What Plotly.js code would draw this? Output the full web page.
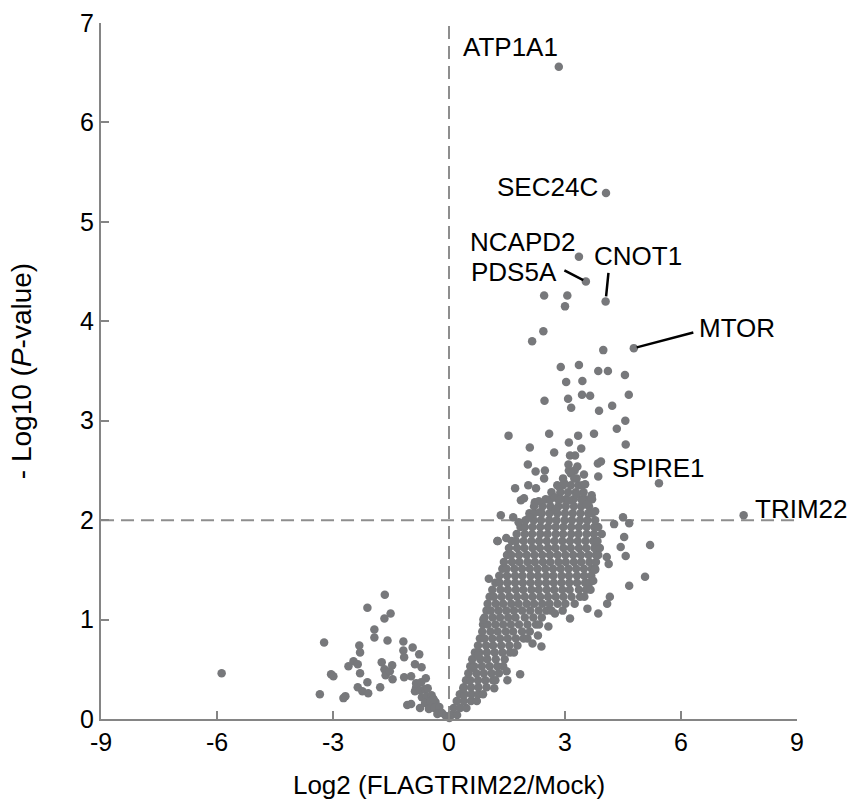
<!DOCTYPE html>
<html><head><meta charset="utf-8">
<script src="https://cdn.plot.ly/plotly-3.0.1.min.js"></script>
<style>html,body{margin:0;padding:0;background:#fff}</style>
</head><body><div id="chart" style="width:850px;height:803px"></div>
<script>
// ---- data ----
const xTickVals = [-9, -6, -3, 0, 3, 6, 9];
const xTickText = ['-9', '-6', '-3', '0', '3', '6', '9'];
const yTickVals = [0, 1, 2, 3, 4, 5, 6, 7];
const xTitle = 'Log2 (FLAGTRIM22/Mock)';
const yTitle = '- Log10 (<i>P</i>-value)';

// down-regulated arm (log2 FC < 0)
const leftArmPts = [
 [-5.88,0.46],[-3.23,0.77],[-3.34,0.25],[-3.05,0.45],[-2.99,0.43],[-2.73,0.21],[-2.68,0.23],
 [-2.60,0.53],[-2.47,0.58],[-2.36,0.55],[-2.32,0.74],[-2.30,0.67],[-2.30,0.46],[-2.36,0.32],
 [-2.24,0.28],[-2.09,0.26],[-2.11,0.37],[-2.11,1.12],[-1.93,0.90],[-1.93,0.82],[-1.78,0.32],
 [-1.66,1.25],[-1.67,1.01],[-1.51,1.06],[-1.59,0.79],[-1.74,0.57],[-1.67,0.50],[-1.64,0.44],
 [-1.47,0.54],[-1.53,0.48],[-1.46,0.40],[-1.18,0.78],[-1.18,0.69],[-1.16,0.62],[-0.94,0.72],
 [-0.77,0.65],[-1.16,0.42],[-0.98,0.43],[-0.88,0.55],[-0.71,0.52],[-0.60,0.41],[-1.08,0.14],
 [-0.98,0.15],[-0.85,0.32],[-0.75,0.11],[-0.85,0.36],[-0.72,0.37],[-0.88,0.28],[-0.75,0.29],
 [-0.62,0.30],[-0.70,0.22],[-0.57,0.23],[-0.45,0.24],[-0.62,0.16],[-0.48,0.17],[-0.35,0.17],
 [-0.52,0.10],[-0.38,0.11],[-0.25,0.12],[-0.30,0.05],[-0.18,0.06],[-0.08,0.03],[-0.55,0.31],
 [-0.40,0.20]
];

// dense up-regulated band
const denseBandPts = [
 [0.01,0.01],[0.06,0.04],[0.21,0.04],
 [0.12,0.11],[0.29,0.11],[0.45,0.11],
 [0.20,0.18],[0.38,0.18],[0.57,0.18],[0.72,0.18],
 [0.28,0.25],[0.40,0.25],[0.58,0.25],[0.76,0.25],[0.88,0.25],
 [0.38,0.32],[0.57,0.32],[0.76,0.32],[0.97,0.32],
 [0.44,0.39],[0.55,0.39],[0.75,0.39],[0.94,0.39],[1.14,0.39],[1.20,0.39],
 [0.50,0.46],[0.71,0.46],[0.90,0.46],[1.10,0.46],[1.29,0.46],
 [0.55,0.53],[0.65,0.53],[0.85,0.53],[1.05,0.53],[1.25,0.53],[1.40,0.53],
 [0.60,0.60],[0.81,0.60],[0.99,0.60],[1.21,0.60],[1.44,0.60],
 [0.67,0.67],[0.78,0.67],[0.98,0.67],[1.18,0.67],[1.38,0.67],[1.58,0.67],[1.68,0.67],
 [0.75,0.74],[0.96,0.74],[1.14,0.74],[1.35,0.74],[1.56,0.74],[1.77,0.74],
 [0.80,0.81],[0.92,0.81],[1.12,0.81],[1.32,0.81],[1.52,0.81],[1.73,0.81],[1.93,0.81],[2.03,0.81],
 [0.86,0.88],[1.07,0.88],[1.26,0.88],[1.47,0.88],[1.66,0.88],[1.89,0.88],[2.09,0.88],
 [0.88,0.95],[1.00,0.95],[1.20,0.95],[1.40,0.95],[1.60,0.95],[1.81,0.95],[2.03,0.95],[2.25,0.95],[2.33,0.95],
 [0.92,1.02],[1.13,1.02],[1.32,1.02],[1.53,1.02],[1.72,1.02],[1.96,1.02],[2.18,1.02],[2.40,1.02],
 [0.97,1.09],[1.08,1.09],[1.28,1.09],[1.48,1.09],[1.68,1.09],[1.89,1.09],[2.10,1.09],[2.32,1.09],[2.52,1.09],[2.65,1.09],[2.94,1.09],
 [1.00,1.16],[1.21,1.16],[1.40,1.16],[1.61,1.16],[1.80,1.16],[2.01,1.16],[2.20,1.16],[2.41,1.16],[2.60,1.16],[2.81,1.16],[3.01,1.16],[3.25,1.16],
 [1.05,1.23],[1.16,1.23],[1.36,1.23],[1.56,1.23],[1.76,1.23],[1.96,1.23],[2.16,1.23],[2.36,1.23],[2.56,1.23],[2.76,1.23],[2.96,1.23],[3.17,1.23],[3.39,1.23],[3.50,1.23],
 [1.12,1.30],[1.33,1.30],[1.52,1.30],[1.73,1.30],[1.92,1.30],[2.13,1.30],[2.32,1.30],[2.53,1.30],[2.72,1.30],[2.93,1.30],[3.12,1.30],[3.36,1.30],[3.55,1.30],
 [1.20,1.37],[1.31,1.37],[1.51,1.37],[1.71,1.37],[1.91,1.37],[2.11,1.37],[2.31,1.37],[2.51,1.37],[2.71,1.37],[2.91,1.37],[3.11,1.37],[3.31,1.37],[3.52,1.37],[3.63,1.37],
 [1.30,1.44],[1.50,1.44],[1.71,1.44],[1.90,1.44],[2.11,1.44],[2.30,1.44],[2.51,1.44],[2.70,1.44],[2.91,1.44],[3.10,1.44],[3.31,1.44],[3.50,1.44],[3.68,1.44],
 [1.38,1.51],[1.49,1.51],[1.69,1.51],[1.89,1.51],[2.09,1.51],[2.29,1.51],[2.49,1.51],[2.69,1.51],[2.89,1.51],[3.09,1.51],[3.29,1.51],[3.49,1.51],[3.69,1.51],[3.78,1.51],
 [1.42,1.58],[1.63,1.58],[1.82,1.58],[2.03,1.58],[2.22,1.58],[2.43,1.58],[2.62,1.58],[2.83,1.58],[3.02,1.58],[3.23,1.58],[3.42,1.58],[3.63,1.58],[3.80,1.58],
 [1.50,1.65],[1.61,1.65],[1.81,1.65],[2.01,1.65],[2.21,1.65],[2.41,1.65],[2.61,1.65],[2.81,1.65],[3.01,1.65],[3.21,1.65],[3.41,1.65],[3.61,1.65],[3.80,1.65],[3.86,1.65],
 [1.55,1.72],[1.76,1.72],[1.95,1.72],[2.16,1.72],[2.35,1.72],[2.56,1.72],[2.75,1.72],[2.96,1.72],[3.15,1.72],[3.36,1.72],[3.55,1.72],[3.76,1.72],[3.90,1.72],
 [1.62,1.79],[1.73,1.79],[1.93,1.79],[2.13,1.79],[2.33,1.79],[2.53,1.79],[2.73,1.79],[2.93,1.79],[3.13,1.79],[3.33,1.79],[3.53,1.79],[3.73,1.79],[3.84,1.79],
 [1.75,1.86],[1.96,1.86],[2.15,1.86],[2.36,1.86],[2.55,1.86],[2.76,1.86],[2.95,1.86],[3.16,1.86],[3.35,1.86],[3.56,1.86],[3.75,1.86],[3.95,1.86],
 [1.85,1.93],[1.96,1.93],[2.16,1.93],[2.36,1.93],[2.56,1.93],[2.76,1.93],[2.96,1.93],[3.16,1.93],[3.36,1.93],[3.56,1.93],[3.76,1.93],[3.86,1.93],
 [1.98,2.00],[2.19,2.00],[2.38,2.00],[2.59,2.00],[2.78,2.00],[2.99,2.00],[3.18,2.00],[3.39,2.00],[3.58,2.00],[3.78,2.00],
 [2.08,2.07],[2.20,2.07],[2.40,2.07],[2.60,2.07],[2.80,2.07],[3.00,2.07],[3.20,2.07],[3.40,2.07],[3.60,2.07],[3.70,2.07],
 [2.20,2.14],[2.42,2.14],[2.62,2.14],[2.83,2.14],[3.02,2.14],[3.23,2.14],[3.42,2.14],[3.62,2.14],
 [2.50,2.21],[2.62,2.21],[2.82,2.21],[3.02,2.21],[3.22,2.21],[3.42,2.21],[3.52,2.21],
 [2.65,2.28],[2.88,2.28],[3.08,2.28],[3.28,2.28],[3.48,2.28],
 [2.80,2.35],[2.95,2.35],[3.15,2.35],[3.35,2.35],[3.45,2.35],
 [2.95,2.42],[3.30,2.42],[3.10,2.50],[3.25,2.50]
];

// scattered points around and above the band
const sparsePts = [
 [2.46,4.26],[3.06,4.26],[3.00,4.15],[2.44,3.90],[2.15,3.80],[3.99,3.71],[2.89,3.54],[3.36,3.56],
 [3.86,3.50],[4.11,3.50],[4.55,3.46],[3.03,3.39],[3.45,3.40],[3.44,3.26],[3.65,3.25],[4.65,3.26],
 [2.47,3.20],[3.08,3.22],[3.16,3.13],[3.88,3.10],[4.22,3.15],[4.56,3.00],[4.34,2.92],[1.54,2.85],
 [2.59,2.87],[3.34,2.85],[3.75,2.87],[4.57,2.76],[2.09,2.73],[3.10,2.78],[3.42,2.72],[2.72,2.68],
 [3.13,2.65],[3.26,2.65],[2.04,2.56],[2.24,2.49],[2.48,2.50],[2.46,2.42],[3.09,2.56],[3.32,2.54],
 [3.85,2.57],[3.93,2.59],[3.15,2.47],[3.49,2.46],[3.24,2.42],[3.86,2.44],[1.71,2.32],[2.05,2.35],
 [2.25,2.32],[2.84,2.34],[2.98,2.37],[3.52,2.36],[3.69,2.25],[1.86,2.20],[1.94,2.22],[2.22,2.18],
 [2.32,2.19],[2.74,2.23],[2.87,2.21],[3.09,2.20],[3.30,2.26],[3.47,2.20],[3.70,2.21],[1.34,2.05],
 [1.66,2.03],[1.80,1.98],[2.08,2.03],[2.35,2.08],[2.76,2.11],[3.56,2.16],[3.78,2.09],[4.50,2.03],
 [4.27,1.96],[4.66,1.97],[1.26,1.79],[1.48,1.82],[4.53,1.83],[5.20,1.75],[5.07,1.43],[4.66,1.34],
 [4.44,1.73],[4.57,1.64],[4.08,1.63],[4.13,1.56],[3.86,1.06],[3.58,1.11],[4.16,1.23],[4.09,1.16],
 [3.78,1.50],[3.73,1.39],[3.66,1.30],[2.74,1.06],[3.13,1.01],[2.57,0.93],[2.39,0.73],[2.16,0.76],
 [2.30,0.84],[1.84,0.45],[1.51,0.39],[1.49,0.48],[1.17,0.31],[1.03,1.41],[1.25,1.79],[0.89,1.00],
 [0.76,0.64],[0.59,0.51],[0.37,0.31]
];

// labelled genes
const geneNames = ['ATP1A1', 'SEC24C', 'NCAPD2', 'PDS5A', 'CNOT1', 'MTOR', 'SPIRE1', 'TRIM22'];
const geneX = [2.84, 4.06, 3.36, 3.54, 4.05, 4.78, 5.43, 7.62];
const geneY = [6.56, 5.29, 4.65, 4.40, 4.20, 3.73, 2.37, 2.05];

const cutoffX = 0;   // log2 FC = 0
const cutoffY = 2;   // -log10 P = 2

// ---- styling / placement ----
const FONT = 'Arial, "Liberation Sans", sans-serif';
const dotColor = '#77787b';
const axisColor = '#858585';
const dashColor = '#8e8e8e';
const labelShift = {           // pixel offsets of label text from its point
 ATP1A1: [-48, 20], SEC24C: [-58, 6], NCAPD2: [-56, 15], PDS5A: [-72, 10],
 CNOT1: [32, 45], MTOR: [103, 20], SPIRE1: [0, 15], TRIM22: [57, 6]
};
const leaderLines = {          // pixel tail of leader line relative to point
 PDS5A: [-23, -12, 3], CNOT1: [3, -30, 5], MTOR: [61, -16, 3]
};

const allPts = leftArmPts.concat(denseBandPts, sparsePts);
const traceAll = {
 type: 'scatter', mode: 'markers', cliponaxis: false,
 x: allPts.map(p => p[0]).concat(geneX),
 y: allPts.map(p => p[1]).concat(geneY),
 marker: {color: dotColor, size: 8.5, line: {width: 0}},
 hoverinfo: 'x+y'
};

const annotations = [];
geneNames.forEach((g, i) => {
 const s = labelShift[g];
 annotations.push({
  x: geneX[i], y: geneY[i], xref: 'x', yref: 'y', text: g, showarrow: false,
  xanchor: 'center', yanchor: 'middle', xshift: s[0], yshift: s[1],
  font: {family: FONT, size: 26, color: '#000'}
 });
 if (leaderLines[g]) {
  const l = leaderLines[g];
  annotations.push({
   x: geneX[i], y: geneY[i], xref: 'x', yref: 'y', text: '', showarrow: true,
   arrowhead: 0, arrowwidth: 2.5, arrowcolor: '#000', ax: l[0], ay: l[1], standoff: l[2]
  });
 }
});

const layout = {
 width: 850, height: 803,
 margin: {l: 101, r: 53, t: 23, b: 84, pad: 0},
 paper_bgcolor: '#fff', plot_bgcolor: '#fff',
 showlegend: false,
 font: {family: FONT, size: 25, color: '#000'},
 xaxis: {
  range: [-9, 9], tickvals: xTickVals, ticktext: xTickText,
  ticks: 'inside', ticklen: 8, tickwidth: 2, tickcolor: axisColor,
  showline: true, linecolor: axisColor, linewidth: 2,
  showgrid: false, zeroline: false,
  tickfont: {family: FONT, size: 25, color: '#000'},
  title: {text: xTitle, font: {family: FONT, size: 26, color: '#000'}, standoff: 21}
 },
 yaxis: {
  range: [0, 7], tickvals: yTickVals,
  ticks: 'inside', ticklen: 8, tickwidth: 2, tickcolor: axisColor,
  showline: true, linecolor: axisColor, linewidth: 2,
  showgrid: false, zeroline: false,
  tickfont: {family: FONT, size: 25, color: '#000'},
  title: {text: yTitle, font: {family: FONT, size: 28, color: '#000'}, standoff: 40}
 },
 shapes: [
  {type: 'line', xref: 'x', yref: 'y', x0: cutoffX, x1: cutoffX, y0: 0, y1: 7,
   line: {color: dashColor, width: 2, dash: '13px,7px'}, layer: 'below'},
  {type: 'line', xref: 'x', yref: 'y', x0: -9, x1: 9, y0: cutoffY, y1: cutoffY,
   line: {color: dashColor, width: 2, dash: '13px,7px'}, layer: 'below'}
 ],
 annotations: annotations
};

Plotly.newPlot('chart', [traceAll], layout, {displayModeBar: false, staticPlot: true});
</script></body></html>
